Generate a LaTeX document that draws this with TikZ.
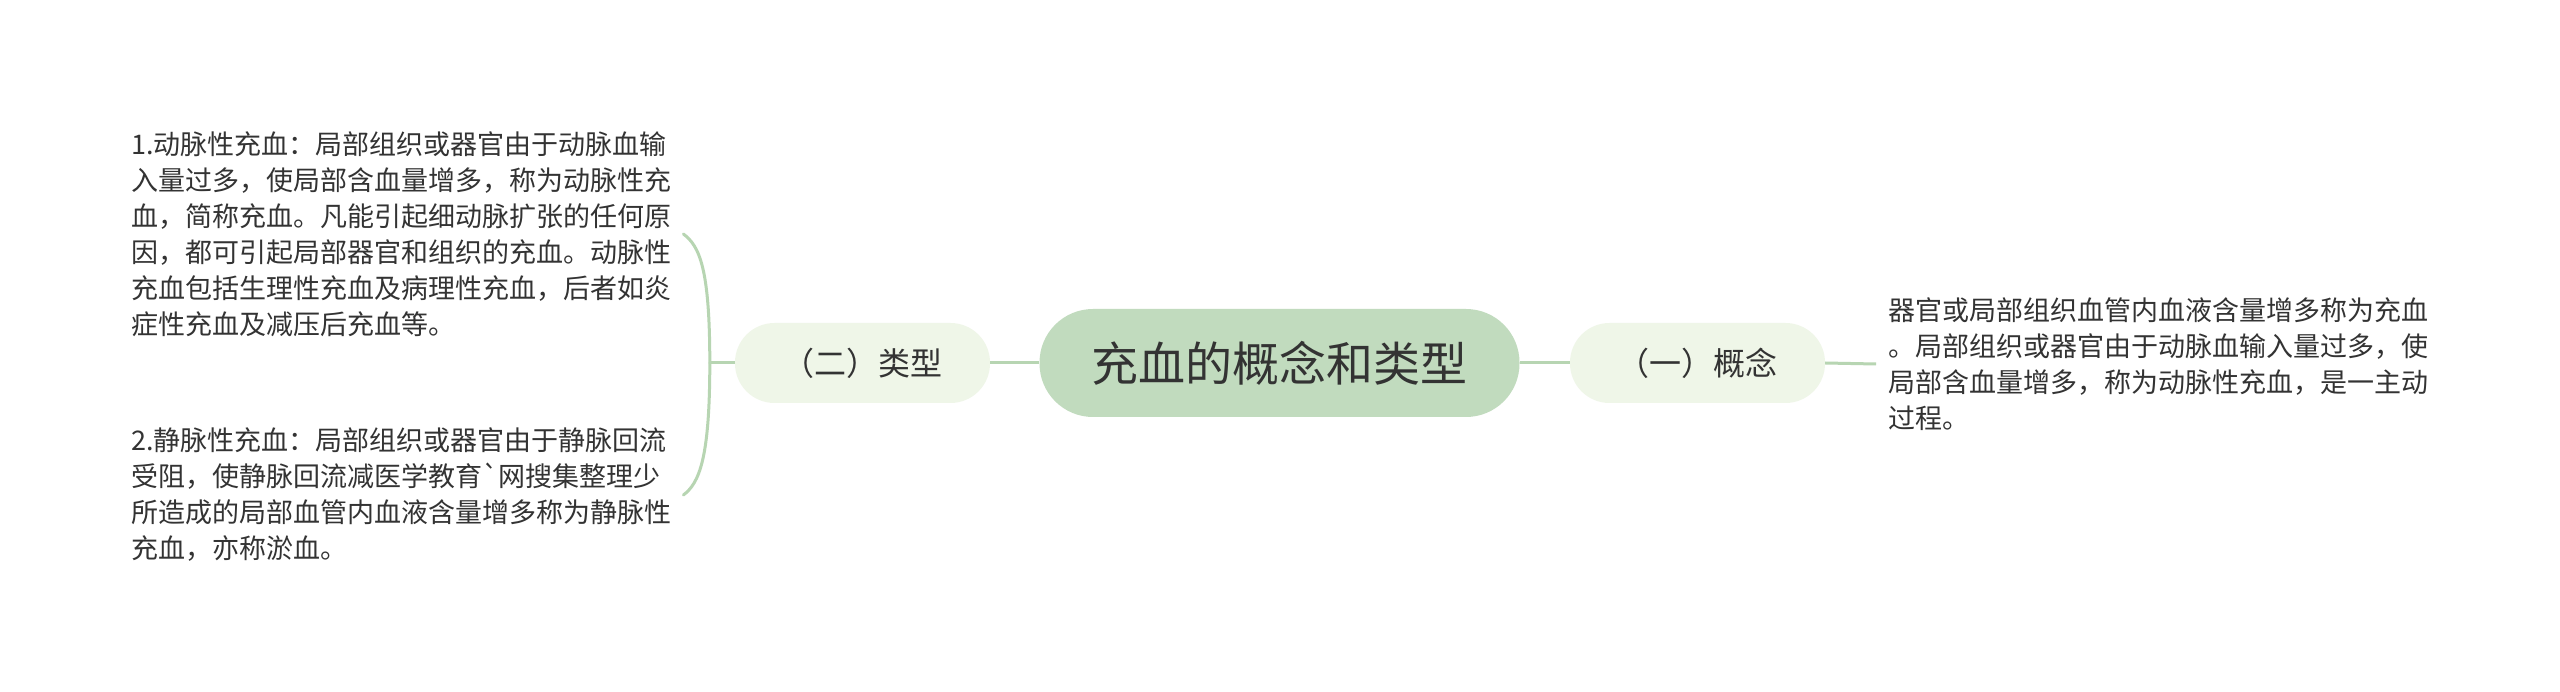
\documentclass[tikz,border=0pt]{standalone}
\usepackage{fontspec}
\newfontfamily\cjk{Noto Sans CJK SC}
\definecolor{lineG}{HTML}{B7D5B2}
\definecolor{rootG}{HTML}{C1DBBE}
\definecolor{subG}{HTML}{EFF6E8}
\definecolor{txt}{HTML}{333333}
\begin{document}
\begin{tikzpicture}[x=1pt,y=-1pt,
  conn/.style={draw=lineG, line width=3pt},
  rootnode/.style={fill=rootG, rounded corners=53.5pt, minimum width=480pt, minimum height=108pt, inner sep=0pt, text=txt, font=\cjk\fontsize{47}{56}\selectfont},
  subnode/.style={fill=subG, rounded corners=39.5pt, minimum width=255pt, minimum height=80pt, inner sep=0pt, text=txt, font=\cjk\fontsize{32}{40}\selectfont},
  leaf/.style={align=left, inner xsep=12pt, inner ysep=0pt, text=txt, font=\cjk\fontsize{27}{36}\selectfont}]
\useasboundingbox (0,0) rectangle (2560,692);
\fill[white] (0,0) rectangle (2560,692);
\node[rootnode] (root) at (1279.5,363) {充血的概念和类型};
\node[subnode] (L) at (862.5,363) {（二）类型};
\node[subnode] (R) at (1697.5,363) {（一）概念};
\node[leaf, anchor=west] (t1) at (119,234) {1.动脉性充血：局部组织或器官由于动脉血输\\
入量过多，使局部含血量增多，称为动脉性充\\
血，简称充血。凡能引起细动脉扩张的任何原\\
因，都可引起局部器官和组织的充血。动脉性\\
充血包括生理性充血及病理性充血，后者如炎\\
症性充血及减压后充血等。};
\node[leaf, anchor=west] (t2) at (119,495) {2.静脉性充血：局部组织或器官由于静脉回流\\
受阻，使静脉回流减医学教育`网搜集整理少\\
所造成的局部血管内血液含量增多称为静脉性\\
充血，亦称淤血。};
\node[leaf, anchor=west] (rt) at (1876,364) {器官或局部组织血管内血液含量增多称为充血\\
。局部组织或器官由于动脉血输入量过多，使\\
局部含血量增多，称为动脉性充血，是一主动\\
过程。};
\coordinate (br) at ([xshift=-25pt]L.west);
\draw[conn] (root.west) -- (L.east);
\draw[conn] (root.east) -- (R.west);
\draw[conn] (R.east) -- (rt.west);
\draw[conn] (L.west) -- (br);
\draw[conn, line cap=round] (br) .. controls +(0,-95) and +(16,12) .. (t1.east);
\draw[conn, line cap=round] (br) .. controls +(0,95) and +(16,-12) .. (t2.east);
\end{tikzpicture}
\end{document}
